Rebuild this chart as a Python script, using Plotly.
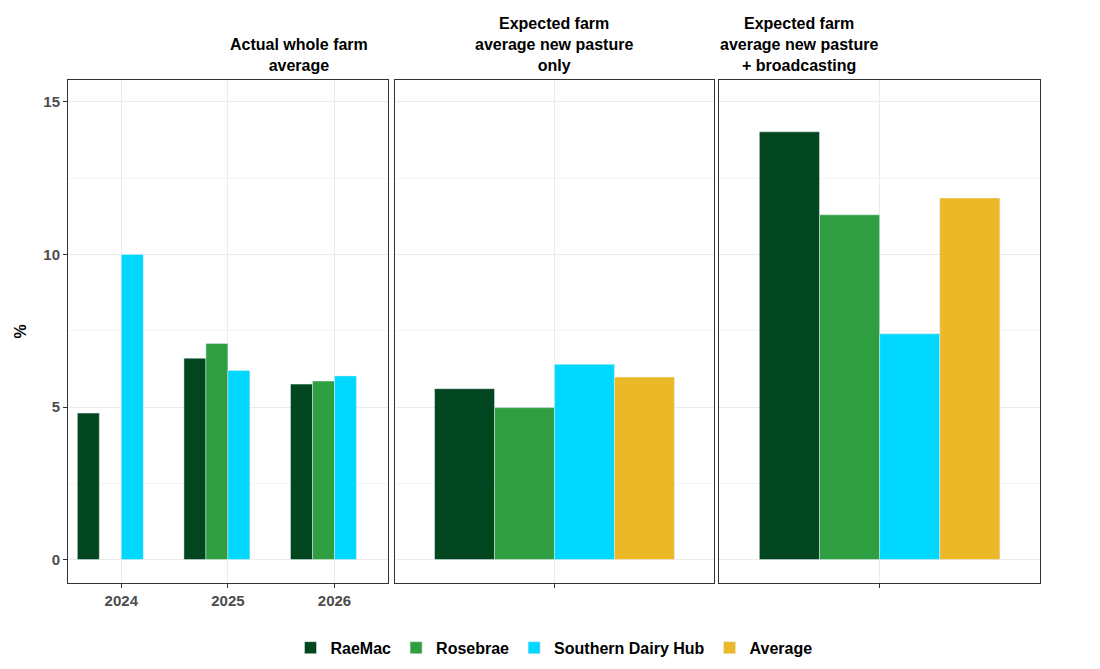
import plotly.graph_objects as go

series = ["RaeMac", "Rosebrae", "Southern Dairy Hub", "Average"]
colors = ["#01461f", "#2e9e40", "#00d8ff", "#ebb928"]
years = ["2024", "2025", "2026"]
p1 = {
    "RaeMac": [4.8, 6.6, 5.75],
    "Rosebrae": [None, 7.08, 5.85],
    "Southern Dairy Hub": [10.0, 6.2, 6.02],
    "Average": [None, None, None],
}
p2 = {"RaeMac": 5.6, "Rosebrae": 4.98, "Southern Dairy Hub": 6.4, "Average": 5.98}
p3 = {"RaeMac": 14.02, "Rosebrae": 11.3, "Southern Dairy Hub": 7.4, "Average": 11.85}
titles = ["Actual whole farm<br>average",
          "Expected farm<br>average new pasture<br>only",
          "Expected farm<br>average new pasture<br>+ broadcasting"]

fig = go.Figure()
for s, c in zip(series, colors):
    fig.add_trace(go.Bar(x=years, y=p1[s], name=s, marker_color=c, xaxis="x", yaxis="y",
                         offsetgroup=s, legendgroup=s))
    fig.add_trace(go.Bar(x=[" "], y=[p2[s]], name=s, marker_color=c, xaxis="x2", yaxis="y2",
                         offsetgroup=s, legendgroup=s, showlegend=False))
    fig.add_trace(go.Bar(x=["  "], y=[p3[s]], name=s, marker_color=c, xaxis="x3", yaxis="y3",
                         offsetgroup=s, legendgroup=s, showlegend=False))

doms = [[0, 0.329], [0.336, 0.665], [0.670, 1.0]]
xr = [[-0.5, 2.5], [-0.55, 0.55], [-0.55, 0.55]]
grid = "#ebebeb"
ax = dict(showline=True, mirror=True, linecolor="#333", linewidth=1, showgrid=True,
          gridcolor=grid, ticks="outside", ticklen=4, tickcolor="#333",
          tickfont=dict(family="Arial", size=15, color="#4d4d4d", weight="bold"))
lay = {}
for i in range(3):
    k = "" if i == 0 else str(i + 1)
    lay["xaxis" + k] = dict(ax, domain=doms[i], range=xr[i], anchor="y" + k, type="category")
    ya = dict(ax, range=[-0.77, 15.72], anchor="x" + k, tickvals=[0, 5, 10, 15],
              minor=dict(tickvals=[2.5, 7.5, 12.5], showgrid=True, gridcolor="#f4f4f4"),
              zeroline=False)
    if i > 0:
        ya["showticklabels"] = False
        ya["ticks"] = ""
        ya["matches"] = "y"
    lay["yaxis" + k] = ya
fig.update_layout(**lay)
fig.update_layout(
    width=1100, height=669, barmode="group", bargap=0.175, bargroupgap=0,
    plot_bgcolor="white", paper_bgcolor="white",
    margin=dict(l=60, r=68, t=72, b=84),
    font=dict(family="Arial", color="#000"),
    legend=dict(orientation="h", x=0.5, xanchor="center", y=-0.095, yanchor="top",
                font=dict(size=16, family="Arial", weight="bold"), traceorder="normal"),
    yaxis_title=dict(text="<b>%</b>", font=dict(size=16), standoff=12),
)
for i, t in enumerate(titles):
    fig.add_annotation(text="<b>" + t + "</b>", x=sum(doms[i]) / 2, xref="paper", y=1.0, yref="paper",
                       yanchor="bottom", yshift=4, showarrow=False, font=dict(size=16, family="Arial"))
fig.write_html("out.html")
